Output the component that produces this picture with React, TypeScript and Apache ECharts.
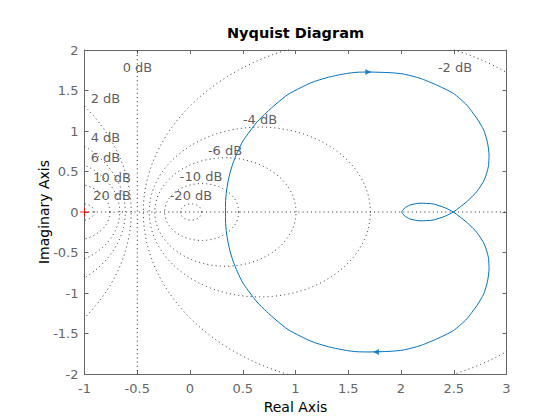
import React, { useEffect, useRef } from "react";
import * as echarts from "echarts";

// M-circle gains (dB) drawn as the Nyquist grid
const gainDb = [-20, -10, -6, -4, -2, 0, 2, 4, 6, 10, 20];
const gainText = ["-20 dB", "-10 dB", "-6 dB", "-4 dB", "-2 dB", "0 dB", "2 dB", "4 dB", "6 dB", "10 dB", "20 dB"];

// Nyquist curve, positive frequencies: real and imaginary parts
const nyqRe = [
  0.3365, 0.3365, 0.346, 0.36, 0.379, 0.408, 0.45, 0.502, 0.569, 0.635, 0.725, 0.815, 0.929,
  1.043, 1.169, 1.327, 1.485, 1.583, 1.687, 1.896, 2.022, 2.18, 2.338, 2.496, 2.623, 2.718,
  2.784, 2.82, 2.835, 2.828, 2.79, 2.718, 2.623, 2.496, 2.417, 2.306, 2.18, 2.085, 2.033, 2.005,
];
const nyqIm = [
  0, 0.111, 0.259, 0.37, 0.481, 0.605, 0.741, 0.877, 1.0, 1.111, 1.228, 1.333, 1.451,
  1.531, 1.607, 1.669, 1.71, 1.725, 1.728, 1.72, 1.704, 1.651, 1.568, 1.465, 1.321, 1.157,
  1.012, 0.855, 0.704, 0.559, 0.398, 0.251, 0.127, 0, -0.052, -0.099, -0.109, -0.086, -0.047, 0,
];

// direction arrows (positive / negative frequency branch)
const arrowUp = [1.69, 1.728];
const arrowDown = [1.763, -1.728];
const criticalPoint = [-1, 0];

// axis ticks
const xMin = -1, xMax = 3, xStep = 0.5;
const yMin = -2, yMax = 2, yStep = 0.5;

// layout: label anchors for the dB texts (same order as gainDb)
const labelAnchors = [
  [0.009, 0.198], [0.105, 0.444], [0.332, 0.765], [0.664, 1.136], [2.512, 1.79],
  [-0.498, 1.79], [-0.801, 1.407], [-0.801, 0.914], [-0.801, 0.679], [-0.739, 0.432], [-0.739, 0.198],
];

const FONT = "DejaVu Sans";
const AXIS_GRAY = "#666666";
const DOT = [1, 3.2];
const DOT_COLOR = "#2e2e2e";

function circlePoints(db: number): number[][] {
  const M = Math.pow(10, db / 20);
  const c = (M * M) / (1 - M * M);
  const r = Math.abs(M / (1 - M * M));
  const pts: number[][] = [];
  for (let t = 0; t <= 720; t++) {
    const a = (t / 720) * 2 * Math.PI;
    pts.push([c + r * Math.cos(a), r * Math.sin(a)]);
  }
  return pts;
}

export default function App() {
  const ref = useRef<HTMLDivElement>(null);
  useEffect(() => {
    if (!ref.current) return;
    const chart = echarts.init(ref.current, undefined, { renderer: "svg" });

    const pos = nyqRe.map((x, i) => [x, nyqIm[i]]);
    const neg = pos.map(([x, y]) => [x, -y]).reverse();
    const curve = [...neg.slice(0, -1), ...pos];

    const gridSeries: any[] = gainDb.map((db) => ({
      type: "line",
      data: db === 0 ? [[-0.5, -10], [-0.5, 10]] : circlePoints(db),
      showSymbol: false,
      silent: true,
      clip: true,
      lineStyle: { color: DOT_COLOR, width: 1, type: DOT },
      z: 1,
    }));
    gridSeries.push({
      type: "line",
      data: [[-10, 0], [10, 0]],
      showSymbol: false,
      silent: true,
      clip: true,
      lineStyle: { color: DOT_COLOR, width: 1, type: DOT },
      z: 1,
    });

    const baseX = {
      type: "value",
      min: xMin,
      max: xMax,
      interval: xStep,
      splitLine: { show: false },
      axisLine: { show: true, onZero: false, lineStyle: { color: AXIS_GRAY, width: 1 } },
      axisTick: { show: true, inside: true, length: 4, lineStyle: { color: AXIS_GRAY } },
    };
    const baseY = {
      type: "value",
      min: yMin,
      max: yMax,
      interval: yStep,
      splitLine: { show: false },
      axisLine: { show: true, onZero: false, lineStyle: { color: AXIS_GRAY, width: 1 } },
      axisTick: { show: true, inside: true, length: 4, lineStyle: { color: AXIS_GRAY } },
    };

    chart.setOption({
      animation: false,
      textStyle: { fontFamily: FONT },
      grid: { left: 84.5, right: 53.5, top: 50, bottom: 46, containLabel: false },
      graphic: [
        {
          type: "text",
          x: 295.5,
          y: 33,
          style: {
            text: "Nyquist Diagram",
            font: `bold 14.5px "${FONT}"`,
            fill: "#000",
            textAlign: "center",
            textVerticalAlign: "middle",
          },
        },
      ],
      xAxis: [
        {
          ...baseX,
          position: "bottom",
          axisLabel: { color: AXIS_GRAY, fontSize: 13, margin: 8, fontFamily: FONT },
          name: "Real Axis",
          nameLocation: "middle",
          nameGap: 26,
          nameTextStyle: { color: "#000", fontSize: 14, fontFamily: FONT },
        },
        { ...baseX, position: "top", axisLabel: { show: false } },
      ],
      yAxis: [
        {
          ...baseY,
          position: "left",
          axisLabel: { color: AXIS_GRAY, fontSize: 13, margin: 6, fontFamily: FONT },
          name: "Imaginary Axis",
          nameLocation: "middle",
          nameGap: 34,
          nameMoveOverlap: false,
          nameTextStyle: { color: "#000", fontSize: 14, fontFamily: FONT },
        },
        { ...baseY, position: "right", axisLabel: { show: false } },
      ],
      series: [
        ...gridSeries,
        {
          type: "scatter",
          data: gainText.map((t, i) => [labelAnchors[i][0], labelAnchors[i][1], t]),
          symbolSize: 0,
          silent: true,
          clip: false,
          label: {
            show: true,
            position: "inside",
            formatter: (p: any) => p.data[2],
            color: "#333",
            fontSize: 13,
            fontFamily: FONT,
          },
          z: 3,
        },
        {
          type: "line",
          data: curve,
          showSymbol: false,
          smooth: 0.2,
          clip: true,
          lineStyle: { color: "#0072BD", width: 1 },
          z: 4,
        },
        {
          type: "scatter",
          data: [arrowUp],
          symbol: "triangle",
          symbolSize: [6, 6],
          symbolRotate: -90,
          itemStyle: { color: "#0072BD" },
          z: 5,
        },
        {
          type: "scatter",
          data: [arrowDown],
          symbol: "triangle",
          symbolSize: [6, 6],
          symbolRotate: 90,
          itemStyle: { color: "#0072BD" },
          z: 5,
        },
        {
          type: "scatter",
          data: [criticalPoint],
          symbol: "path://M0,4H9V5H0ZM4,0H5V9H4Z",
          symbolSize: 9,
          clip: false,
          itemStyle: { color: "#ff0000" },
          z: 6,
        },
      ],
    });
    return () => chart.dispose();
  }, []);
  return <div ref={ref} style={{ width: 560, height: 420, position: "absolute", left: 0, top: 0, background: "#fff" }} />;
}
